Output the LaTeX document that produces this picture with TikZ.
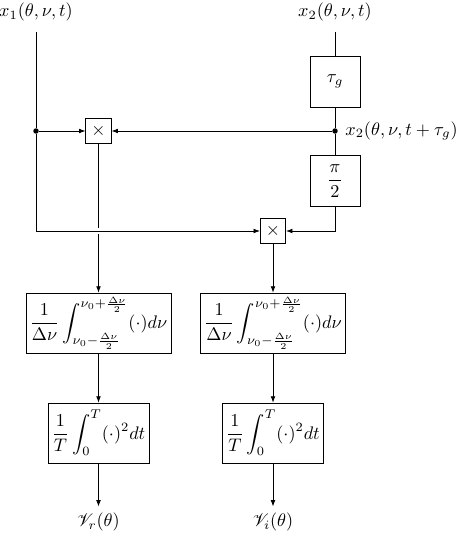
\documentclass[tikz,border=0pt]{standalone}
\usepackage{amsmath}
\usepackage{mathrsfs}
\usetikzlibrary{arrows.meta}
\begin{document}
\begin{tikzpicture}[x=0.55pt,y=-0.55pt,>={Latex[length=3.5pt,width=2.6pt]},
    blk/.style={draw,minimum width=27.5pt,minimum height=28pt,inner sep=1pt},
    mult/.style={draw,minimum size=14pt,inner sep=0pt},
    intbox/.style={draw,minimum height=33pt,inner sep=2pt},
    dot/.style={circle,fill,inner sep=0pt,minimum size=3pt}]
  \useasboundingbox (0,0) rectangle (457,535);

  % inputs
  \node (xone) at (36,12) {$x_1(\theta,\nu,t)$};
  \node (xtwo) at (335,12) {$x_2(\theta,\nu,t)$};
  \coordinate (ltop) at (36,32);
  \coordinate (rtop) at (335,32);

  % delay and phase shift
  \node[blk] (tau) at (335,81.5) {$\tau_g$};
  \node[dot] (dr) at (335,131) {};
  \node[anchor=west] (xtau) at (339,131) {$x_2(\theta,\nu,t+\tau_g)$};
  \node[blk] (phase) at (335,181) {$\dfrac{\pi}{2}$};
  \node[dot] (dl) at (36,131) {};
  \coordinate (corner) at (36,231);

  % multipliers
  \node[mult] (mone) at (98.5,131) {$\times$};
  \node[mult] (mtwo) at (273,231) {$\times$};

  % integrators
  \node[intbox,minimum width=77.5pt] (bandr) at (98.5,323)
    {$\dfrac{1}{\Delta\nu}\displaystyle\int_{\nu_0-\frac{\Delta\nu}{2}}^{\nu_0+\frac{\Delta\nu}{2}}(\cdot)d\nu$};
  \node[intbox,minimum width=77.5pt] (bandi) at (273,323)
    {$\dfrac{1}{\Delta\nu}\displaystyle\int_{\nu_0-\frac{\Delta\nu}{2}}^{\nu_0+\frac{\Delta\nu}{2}}(\cdot)d\nu$};
  \node[intbox,minimum width=55.5pt] (avgr) at (98.5,433)
    {$\dfrac{1}{T}\displaystyle\int_0^T(\cdot)^2dt$};
  \node[intbox,minimum width=55.5pt] (avgi) at (273,433)
    {$\dfrac{1}{T}\displaystyle\int_0^T(\cdot)^2dt$};

  % outputs
  \node (outr) at (98.5,522) {$\mathscr{V}_r(\theta)$};
  \node (outi) at (273,522) {$\mathscr{V}_i(\theta)$};

  % connections
  \draw (rtop) -- (tau);
  \draw (tau) -- (dr) -- (phase);
  \draw[->] (dr) -- (mone);
  \draw[->] (dl) -- (mone);
  \draw[->] (mone) -- (bandr);
  \draw[white,line width=3.5pt,shorten <=2pt,shorten >=2pt] (corner) -- (mtwo);
  \draw[->] (ltop) -- (dl) -- (corner) -- (mtwo);
  \draw[->] (phase) |- (mtwo);
  \draw[->] (mtwo) -- (bandi);
  \draw[->] (bandr) -- (avgr);
  \draw[->] (bandi) -- (avgi);
  \draw[->] (avgr) -- (outr);
  \draw[->] (avgi) -- (outi);
\end{tikzpicture}
\end{document}
